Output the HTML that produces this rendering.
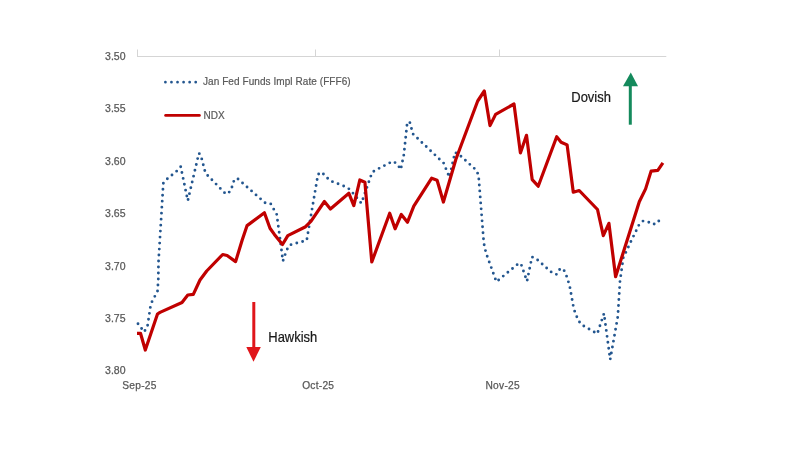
<!DOCTYPE html>
<html><head><meta charset="utf-8"><style>
html,body{margin:0;padding:0;background:#fff;}
body{width:794px;height:450px;overflow:hidden;}
svg{display:block;font-family:"Liberation Sans",sans-serif;will-change:transform;}
</style></head><body>
<svg width="794" height="450" viewBox="0 0 794 450">
<rect width="794" height="450" fill="#fff"/>
<g fill="#595959" stroke="#595959" stroke-width="0.25" font-size="10.5" text-anchor="end">
<text x="125.5" y="59.6">3.50</text>
<text x="125.5" y="112.1">3.55</text>
<text x="125.5" y="164.5">3.60</text>
<text x="125.5" y="217">3.65</text>
<text x="125.5" y="269.5">3.70</text>
<text x="125.5" y="322">3.75</text>
<text x="125.5" y="374.4">3.80</text>
</g>
<g fill="#595959" stroke="#595959" stroke-width="0.25" font-size="10.2" text-anchor="middle" letter-spacing="0.25">
<text x="139.5" y="388.5">Sep-25</text>
<text x="318.2" y="388.5">Oct-25</text>
<text x="502.7" y="388.5">Nov-25</text>
</g>
<g stroke="#d5d5d5" stroke-width="1" fill="none">
<line x1="137" y1="56.5" x2="666.3" y2="56.5"/>
<line x1="137.5" y1="49.5" x2="137.5" y2="56.5"/>
<line x1="315.5" y1="49.5" x2="315.5" y2="56.5"/>
<line x1="499.5" y1="49.5" x2="499.5" y2="56.5"/>
</g>
<polyline points="138.0,323.7 144.2,332.0 147.5,326.0 150.3,307.5 152.0,301.7 157.5,291.3 158.3,280.0 158.5,262.0 162.2,201.4 163.3,183.3 166.7,179.3 176.7,171.1 180.7,166.7 187.8,200.7 198.9,153.3 200.7,154.9 205.5,173.3 226.0,194.2 230.7,191.1 234.5,179.0 238.0,179.0 265.6,203.3 270.7,203.8 276.7,214.4 280.0,238.4 282.9,261.1 286.7,250.0 290.0,244.9 306.7,240.4 318.0,174.4 321.6,172.2 330.0,180.7 345.6,186.7 350.0,189.6 361.4,203.3 372.2,172.2 376.7,169.6 392.7,161.3 397.1,163.8 400.7,169.6 403.8,155.0 407.3,122.2 409.8,122.3 413.0,134.0 443.7,163.2 449.4,177.3 455.0,152.4 458.9,154.4 476.7,170.6 478.6,176.0 483.8,243.0 486.0,253.0 496.4,281.8 519.1,263.0 521.3,264.8 527.0,281.2 532.0,257.0 535.6,258.2 553.3,273.8 556.7,274.4 560.0,268.9 563.3,268.9 566.0,274.4 569.6,285.6 573.8,308.9 578.2,320.4 581.8,324.9 597.3,333.8 604.0,313.5 610.2,359.5 617.8,316.7 620.0,281.1 623.3,257.8 631.1,241.1 638.9,225.1 642.9,221.1 647.8,221.6 652.7,224.4 657.8,222.9 660.7,217.1" fill="none" stroke="#23568f" stroke-width="2.9" stroke-linecap="round" stroke-linejoin="round" stroke-dasharray="0 6"/>
<polyline points="137.0,333.3 140.5,333.3 145.3,350.0 157.5,314.0 160.0,312.4 182.0,302.5 187.8,295.0 193.3,294.4 200.0,280.0 206.7,271.0 222.7,254.5 227.1,255.5 235.6,261.6 242.2,240.0 247.1,225.6 264.4,212.7 270.0,228.2 274.4,234.4 282.5,244.5 287.8,235.6 305.6,226.7 311.1,221.1 324.4,201.5 330.4,209.0 348.9,193.3 353.8,205.6 359.8,180.0 364.9,182.2 371.8,262.0 389.7,213.2 395.1,228.8 401.3,214.5 407.5,222.2 413.8,206.2 431.7,178.2 437.1,180.2 443.4,202.0 455.8,159.5 477.7,101.0 484.3,91.0 490.0,125.6 495.6,114.4 514.0,104.0 520.4,152.9 526.5,135.3 532.2,179.6 538.2,186.2 556.7,136.7 561.1,142.2 567.1,144.9 573.3,192.2 579.2,190.5 597.5,209.5 603.3,235.6 608.9,223.3 615.6,276.7 639.3,201.8 645.6,188.9 651.1,171.1 657.8,170.4 662.9,162.9" fill="none" stroke="#c00000" stroke-width="3.2" stroke-linejoin="round" stroke-linecap="butt"/>
<line x1="165.4" y1="82.2" x2="196" y2="82.2" stroke="#23568f" stroke-width="2.75" stroke-linecap="round" stroke-dasharray="0 6.06"/>
<text x="203" y="85" font-size="10" fill="#595959" stroke="#595959" stroke-width="0.2" letter-spacing="0.07">Jan Fed Funds Impl Rate (FFF6)</text>
<line x1="165.6" y1="115.4" x2="199.4" y2="115.4" stroke="#c00000" stroke-width="2.75" stroke-linecap="round"/>
<text x="203.5" y="118.8" font-size="10" fill="#595959" stroke="#595959" stroke-width="0.2">NDX</text>
<!-- hawkish arrow -->
<line x1="253.8" y1="302" x2="253.8" y2="348" stroke="#e0161b" stroke-width="3"/>
<polygon points="246.3,347 260.8,347 253.5,361.7" fill="#e0161b"/>
<text transform="translate(268.3,341.9) scale(0.94,1)" font-size="13.8" fill="#1a1a1a" stroke="#1a1a1a" stroke-width="0.22">Hawkish</text>
<!-- dovish arrow -->
<line x1="630.3" y1="85" x2="630.3" y2="124.7" stroke="#148a5c" stroke-width="3"/>
<polygon points="623,86.3 638,86.3 630.8,72.5" fill="#148a5c"/>
<text transform="translate(571.3,101.7) scale(0.94,1)" font-size="13.8" fill="#1a1a1a" stroke="#1a1a1a" stroke-width="0.22">Dovish</text>
</svg>
</body></html>
